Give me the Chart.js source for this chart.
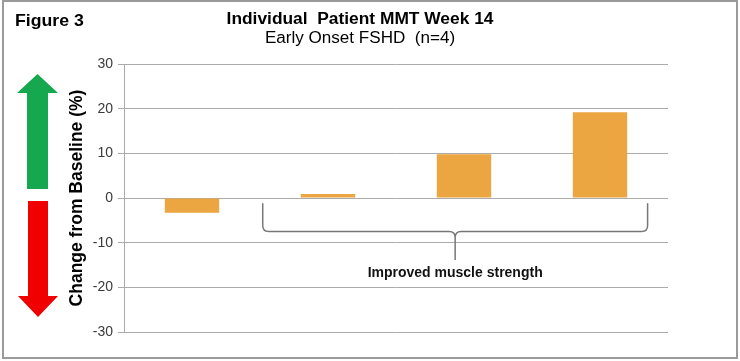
<!DOCTYPE html>
<html>
<head>
<meta charset="utf-8">
<script src="https://cdn.jsdelivr.net/npm/chart.js@4/dist/chart.umd.min.js"></script>
<style>
  html, body { margin: 0; padding: 0; background: #fff; }
  #wrap { width: 740px; height: 361px; }
</style>
</head>
<body>
<div id="wrap"><canvas id="chMMT"></canvas></div>
<script>
// chart data
var patients = ['Patient 1', 'Patient 2', 'Patient 3', 'Patient 4'];
var changeFromBaseline = [-3.3, 0.9, 9.8, 19.2];
var yTicks = [-30, -20, -10, 0, 10, 20, 30];

var barColor = '#EBA541';
var sans = '"Liberation Sans", Arial, sans-serif';

// draws text stretched horizontally to match the source's letter widths
function scaledText(ctx, text, x, y, font, stretch, align) {
    ctx.save();
    ctx.font = font;
    ctx.textAlign = align;
    ctx.translate(x, y);
    ctx.scale(stretch, 1);
    ctx.fillText(text, 0, 0);
    ctx.restore();
}

// frame, titles, arrows and brace
var decorations = {
    id: 'decorations',
    beforeDraw: function (chart) {
        var ctx = chart.ctx;
        ctx.save();
        ctx.fillStyle = '#fff';
        ctx.fillRect(0, 0, chart.width, chart.height);
        ctx.restore();
    },
    afterDraw: function (chart) {
        var ctx = chart.ctx;
        var x = chart.scales.x, y = chart.scales.y;
        ctx.save();

        // frame
        ctx.strokeStyle = '#9a9a9a';
        ctx.lineWidth = 2;
        ctx.strokeRect(3, 1, chart.width - 6, chart.height - 4);

        // titles
        ctx.fillStyle = '#000';
        ctx.textBaseline = 'alphabetic';
        scaledText(ctx, 'Figure 3', 15, 26, 'bold 17px ' + sans, 1.04, 'left');
        scaledText(ctx, 'Individual  Patient MMT Week 14', 360, 24, 'bold 16px ' + sans, 1.085, 'center');
        scaledText(ctx, 'Early Onset FSHD  (n=4)', 360, 43, '16px ' + sans, 1.067, 'center');

        // up / down arrows
        ctx.fillStyle = '#16A84E';
        ctx.beginPath();
        ctx.moveTo(27, 189); ctx.lineTo(27, 93); ctx.lineTo(17, 93);
        ctx.lineTo(37.5, 74); ctx.lineTo(58, 93); ctx.lineTo(48, 93);
        ctx.lineTo(48, 189); ctx.closePath(); ctx.fill();
        ctx.fillStyle = '#F00000';
        ctx.beginPath();
        ctx.moveTo(28, 201); ctx.lineTo(28, 296); ctx.lineTo(18, 296);
        ctx.lineTo(38, 317); ctx.lineTo(58, 296); ctx.lineTo(48, 296);
        ctx.lineTo(48, 201); ctx.closePath(); ctx.fill();

        // brace under patients 2-4
        var step = x.getPixelForValue(1) - x.getPixelForValue(0);
        var left = x.getPixelForValue(1) - 0.48 * step;
        var right = x.getPixelForValue(3) + 0.35 * step;
        var mid = (left + right) / 2;
        var top = y.getPixelForValue(-1.2);
        var bar = y.getPixelForValue(-7.5);
        var tip = y.getPixelForValue(-13.9);
        var r = 6;
        ctx.strokeStyle = '#777';
        ctx.lineWidth = 1.5;
        ctx.beginPath();
        ctx.moveTo(left, top);
        ctx.lineTo(left, bar - r);
        ctx.quadraticCurveTo(left, bar, left + r, bar);
        ctx.lineTo(mid - r, bar);
        ctx.quadraticCurveTo(mid, bar, mid, bar + r);
        ctx.lineTo(mid, tip);
        ctx.moveTo(mid, bar + r);
        ctx.quadraticCurveTo(mid, bar, mid + r, bar);
        ctx.lineTo(right - r, bar);
        ctx.quadraticCurveTo(right, bar, right, bar - r);
        ctx.lineTo(right, top);
        ctx.stroke();

        ctx.fillStyle = '#111';
        ctx.font = 'bold 14px ' + sans;
        ctx.textAlign = 'center';
        ctx.fillText('Improved muscle strength', mid, y.getPixelForValue(-17.6));
        ctx.restore();
    }
};

var chMMT = document.getElementById('chMMT');
if (chMMT) {
    new Chart(chMMT, {
        type: 'bar',
        data: {
            labels: patients,
            datasets: [{
                data: changeFromBaseline,
                backgroundColor: barColor,
                borderWidth: 0,
                categoryPercentage: 1,
                barPercentage: 0.4
            }]
        },
        options: {
            responsive: true,
            maintainAspectRatio: false,
            animation: false,
            layout: { padding: { left: 0, top: 64, right: 72, bottom: 29 } },
            plugins: {
                legend: { display: false },
                tooltip: { enabled: false }
            },
            scales: {
                x: { display: false },
                y: {
                    min: -30,
                    max: 30,
                    afterFit: function (scale) { scale.width = 124; },
                    afterBuildTicks: function (scale) {
                        scale.ticks = yTicks.map(function (v) { return { value: v }; });
                    },
                    grid: { color: '#ababab', lineWidth: 1, tickLength: 6, drawTicks: true },
                    border: { display: true, color: '#ababab' },
                    ticks: {
                        padding: 5,
                        color: '#3a3a3a',
                        font: { family: sans, size: 14 }
                    },
                    title: {
                        display: true,
                        text: 'Change from Baseline (%)',
                        color: '#000',
                        padding: { top: 67 },
                        font: { family: sans, size: 17.5, weight: 'bold' }
                    }
                }
            }
        },
        plugins: [decorations]
    });
}
</script>
</body>
</html>
